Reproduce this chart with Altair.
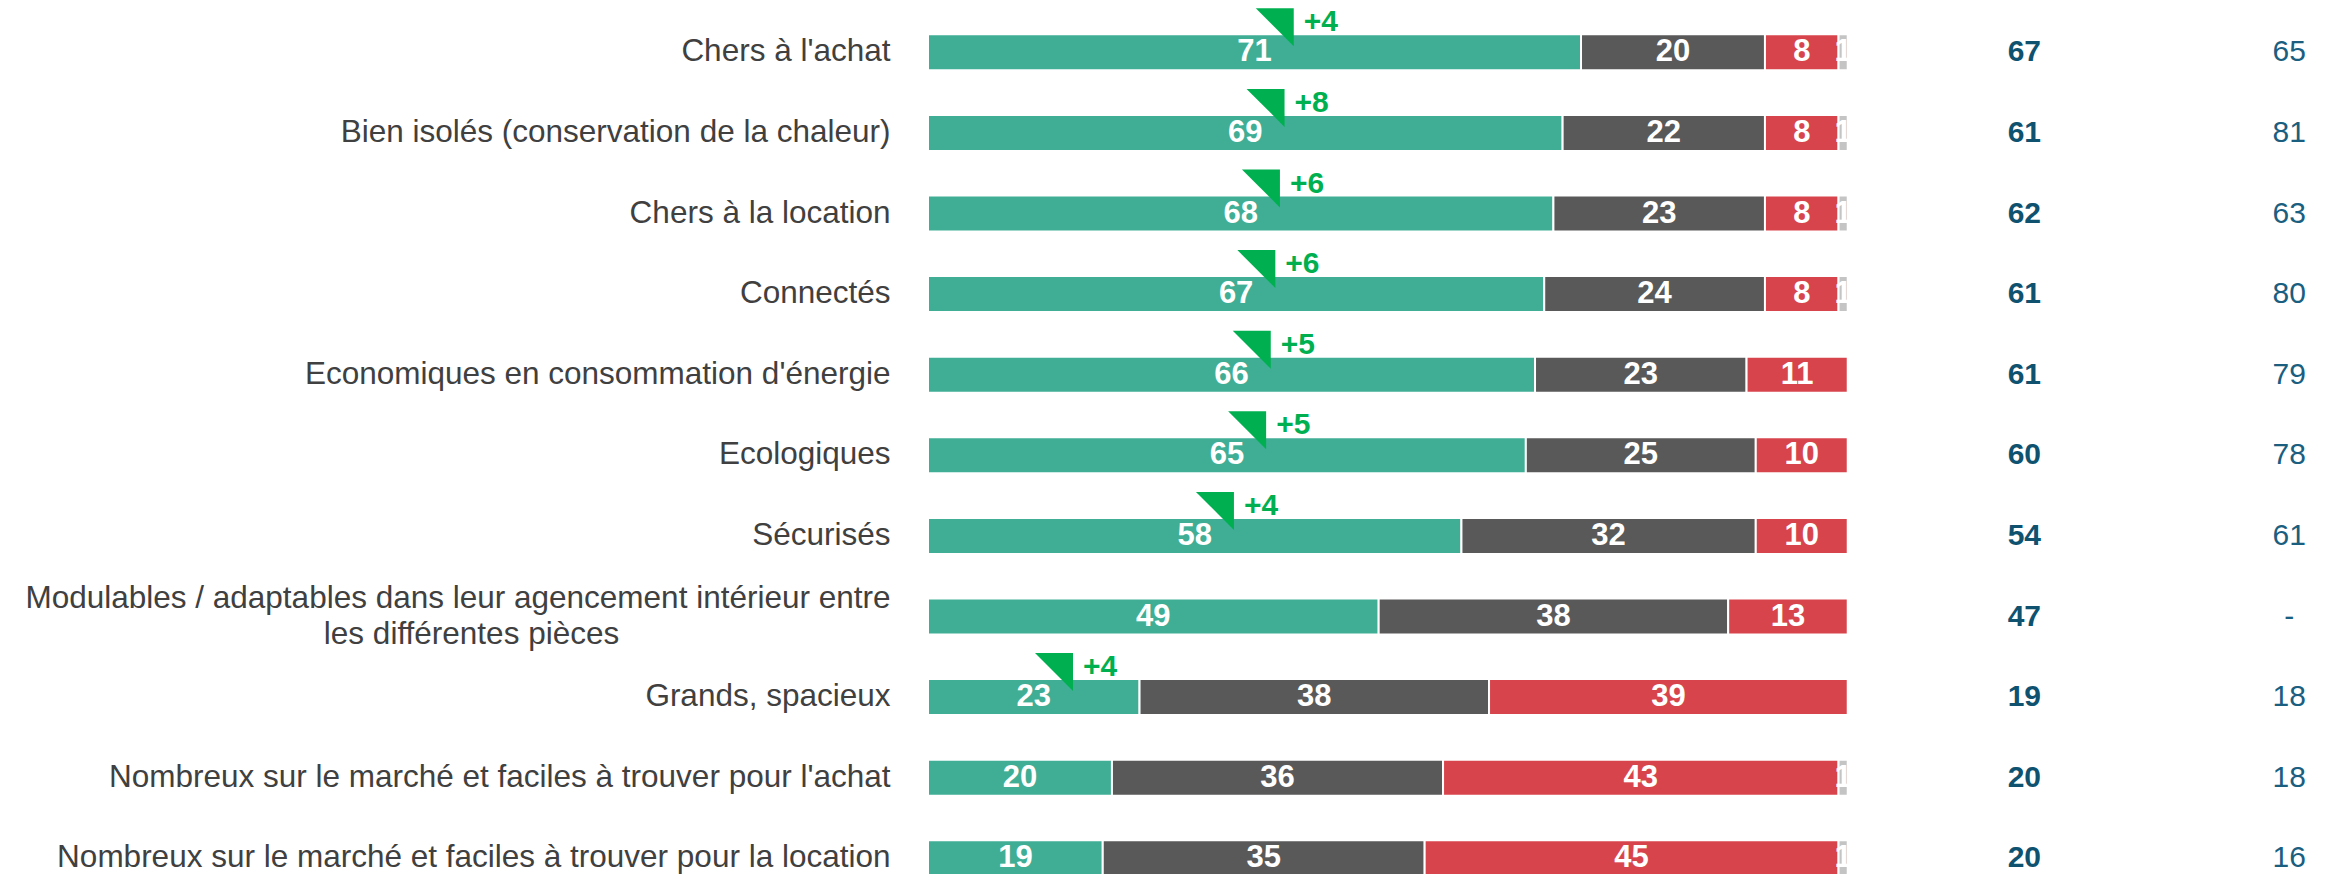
import altair as alt
import pandas as pd

categories = [
    "Chers à l'achat",
    "Bien isolés (conservation de la chaleur)",
    "Chers à la location",
    "Connectés",
    "Economiques en consommation d'énergie",
    "Ecologiques",
    "Sécurisés",
    "Modulables / adaptables dans leur agencement intérieur entre\nles différentes pièces",
    "Grands, spacieux",
    "Nombreux sur le marché et faciles à trouver pour l'achat",
    "Nombreux sur le marché et faciles à trouver pour la location",
]
oui = [71, 69, 68, 67, 66, 65, 58, 49, 23, 20, 19]
neutre = [20, 22, 23, 24, 23, 25, 32, 38, 38, 36, 35]
non = [8, 8, 8, 8, 11, 10, 10, 13, 39, 43, 45]
nsp = [1, 1, 1, 1, 0, 0, 0, 0, 0, 1, 1]
evolution = ["+4", "+8", "+6", "+6", "+5", "+5", "+4", "", "+4", "", ""]
col_a = ["67", "61", "62", "61", "61", "60", "54", "47", "19", "20", "20"]
col_b = ["65", "81", "63", "80", "79", "78", "61", "-", "18", "18", "16"]

series = ["Oui", "Neutre", "Non", "NSP"]
colors = ["#3FAE94", "#595959", "#D8444B", "#C4C4C4"]

rows = []
for i, c in enumerate(categories):
    for k, vals in enumerate([oui, neutre, non, nsp]):
        if vals[i] > 0:
            rows.append({"cat": c, "serie": series[k], "ordre": k, "val": vals[i]})
df = pd.DataFrame(rows)

df_evo = pd.DataFrame({"cat": categories, "oui": oui, "evo": evolution})
df_evo = df_evo[df_evo["evo"] != ""]

df_cols = pd.DataFrame({"cat": categories, "a": col_a, "b": col_b})

# trailing no-break spaces (kept by a final zero-width space) centre the 2nd line
pad = "\u00a0" * 31 + "\u200b"
label_expr = (
    "indexof(datum.label, '\\n') >= 0 ? "
    "[split(datum.label, '\\n')[0], split(datum.label, '\\n')[1] + '" + pad + "'] : datum.label"
)

Y = alt.Y(
    "cat:N",
    sort=categories,
    scale=alt.Scale(range=[0, 886.6], paddingInner=0, paddingOuter=0),
    axis=alt.Axis(
        title=None,
        domain=False,
        ticks=False,
        tickSize=0,
        labelPadding=38,
        labelFontSize=31.5,
        labelColor="#404040",
        labelFont="Liberation Sans",
        labelLimit=1200,
        labelLineHeight=36,
        labelOffset={"condition": {"test": "indexof(datum.label, '\\n') >= 0", "value": -18}, "value": 0},
        labelExpr=label_expr,
    ),
)

xscale = alt.Scale(domain=[0, 152], nice=False, zero=False)

base = alt.Chart(df).transform_stack(
    stack="val",
    groupby=["cat"],
    sort=[alt.SortField("ordre", order="ascending")],
    as_=["x0", "x1"],
).transform_calculate(mid="(datum.x0 + datum.x1) / 2")

bars = base.mark_bar(size=36, stroke="white", strokeWidth=2).encode(
    x=alt.X("x0:Q", scale=xscale, axis=None),
    x2="x1:Q",
    y=Y,
    color=alt.Color("serie:N", scale=alt.Scale(domain=series, range=colors), legend=None),
)

seg_labels = base.mark_text(
    color="white", fontSize=31, fontWeight="bold", font="Liberation Sans", baseline="middle"
).encode(x="mid:Q", y=Y, text="val:Q")

tri = alt.Chart(df_evo).transform_calculate(xt="datum.oui / 2 + 2.2").mark_point(
    shape="M -1 -1 L 1 -1 L 1 1 Z",
    filled=True,
    size=1444,
    color="#00B050",
    opacity=1,
    strokeWidth=0,
    yOffset=-25,
).encode(x="xt:Q", y=Y)

evo_text = alt.Chart(df_evo).transform_calculate(xt="datum.oui / 2 + 2.2").mark_text(
    align="left",
    baseline="alphabetic",
    dx=29,
    dy=-21,
    fontSize=30,
    fontWeight="bold",
    font="Liberation Sans",
    color="#00B050",
).encode(x="xt:Q", y=Y, text="evo:N")

col_a_text = alt.Chart(df_cols).mark_text(
    fontSize=30, fontWeight="bold", font="Liberation Sans", color="#0E5270", baseline="middle"
).encode(x=alt.datum(119.2), y=Y, text="a:N")

col_b_text = alt.Chart(df_cols).mark_text(
    fontSize=30, font="Liberation Sans", color="#1A5E80", baseline="middle"
).encode(x=alt.datum(148), y=Y, text="b:N")

chart = alt.layer(bars, seg_labels, tri, evo_text, col_a_text, col_b_text).properties(
    width=1398,
    height=862,
    padding={"left": 920, "top": 4, "right": 0, "bottom": 0},
    autosize=alt.AutoSizeParams(type="none"),
).configure(font="Liberation Sans").configure_view(stroke=None)

chart.save("out.html", embed_options={"renderer": "svg", "actions": False})
